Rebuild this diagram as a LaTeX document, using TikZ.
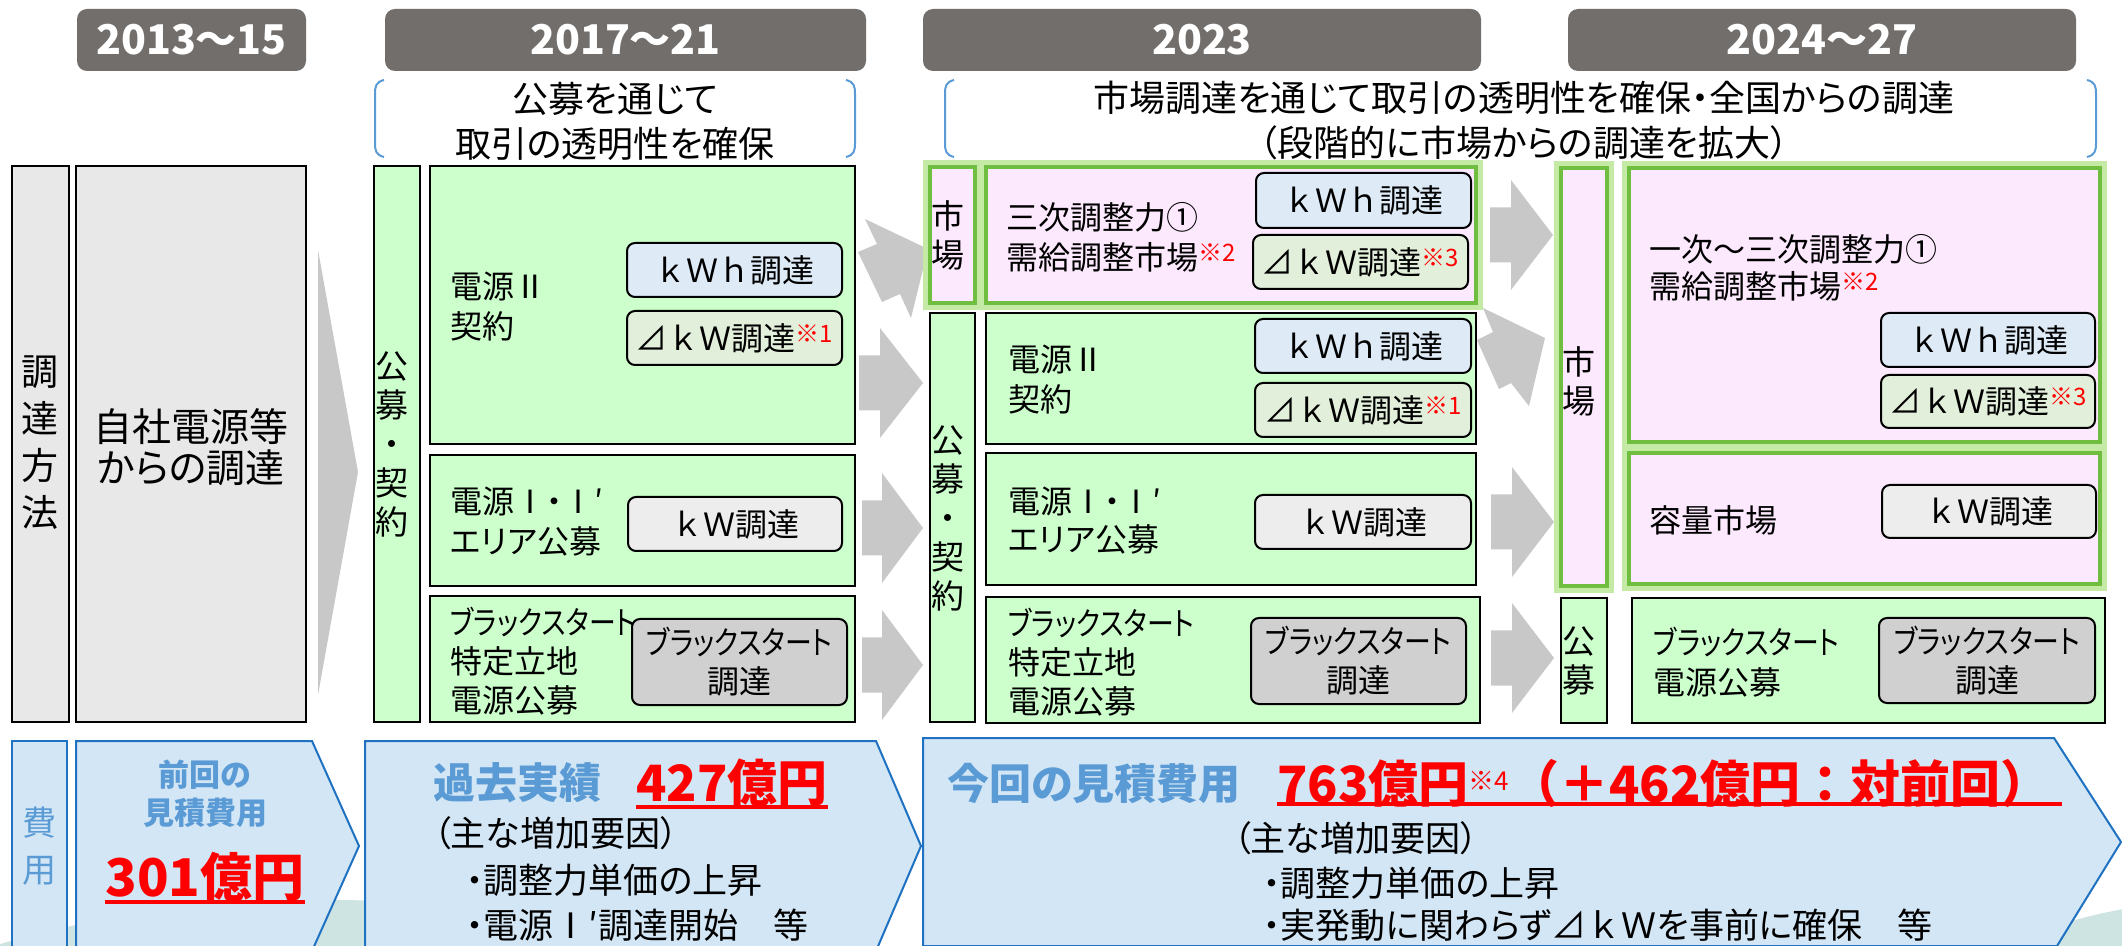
\documentclass[tikz,border=0pt]{standalone}
\usepackage{fontspec}
\usepackage{graphicx}
\setmainfont{Noto Sans CJK JP}[RawFeature=+palt]
\newfontfamily\jpm{Noto Sans CJK JP}
\usetikzlibrary{calc}
\definecolor{hdrgrey}{RGB}{114,110,107}
\definecolor{leftgrey}{RGB}{232,232,232}
\definecolor{gfill}{RGB}{204,255,204}
\definecolor{pfill}{RGB}{253,233,253}
\definecolor{kwhfill}{RGB}{222,235,247}
\definecolor{dkwfill}{RGB}{226,239,218}
\definecolor{kwfill}{RGB}{237,237,237}
\definecolor{bsfill}{RGB}{208,208,208}
\definecolor{arrgrey}{RGB}{200,200,200}
\definecolor{brblue}{RGB}{91,155,213}
\definecolor{costfill}{RGB}{211,230,245}
\definecolor{costline}{RGB}{31,113,193}
\definecolor{costtext}{RGB}{91,155,213}
\definecolor{glowborder}{RGB}{112,190,64}
\definecolor{halocol}{RGB}{196,234,166}
\definecolor{hill}{RGB}{205,228,226}
\newcommand\fs[2]{\fontsize{#1}{#2}\selectfont}
\newcommand\sn[1]{\raisebox{4pt}{\textcolor{red}{\fs{12}{13}※#1}}}
\newcommand\bsk{\scalebox{0.84}[1]{ブラックスタート}}
\newcommand\bx[7]{\node[#2, minimum width={(#5-#3)*0.5pt}, minimum height={(#6-#4)*0.5pt}] (#1) at (#3,#4) {#7};}
\newcommand\harrow[4]{\fill[blk] (#1,#4-27.5) -- (#2,#4-27.5) -- (#2,#4-55) -- (#3,#4) -- (#2,#4+55) -- (#2,#4+27.5) -- (#1,#4+27.5) -- cycle;}
\tikzset{
  base/.style={inner sep=0pt, outer sep=0pt, anchor=north west},
  hdr/.style={base, fill=hdrgrey, rounded corners=5pt, text=white, font=\bfseries\fs{20.5}{24}},
  lbox/.style={base, draw=black, line width=1pt, fill=leftgrey},
  gbox/.style={base, draw=black, line width=1pt, fill=gfill},
  pbox/.style={base, draw=glowborder, line width=2.2pt, fill=pfill},
  halo/.style={draw=halocol, line width=7pt},
  ibox/.style={base, draw=black, line width=1pt, rounded corners=4pt, font=\jpm\fs{16}{20}, align=center},
  kwh/.style={ibox, fill=kwhfill},
  dkw/.style={ibox, fill=dkwfill},
  kwb/.style={ibox, fill=kwfill},
  bsb/.style={ibox, fill=bsfill, font=\fs{16}{19.5}},
  txt/.style={inner sep=0pt, anchor=west, align=left, font=\fs{16}{20}},
  vtxt/.style={inner sep=0pt, anchor=west, align=center, font=\jpm\fs{16.5}{19.5}},
  blk/.style={fill=arrgrey},
  brk/.style={draw=brblue, line width=1pt},
  costbox/.style={fill=costfill, draw=costline, line width=1pt},
  ul/.style={draw=red, line width=1.6pt},
  blue/.style={txt, text=costtext, font=\bfseries\fs{21}{24}},
  rednum/.style={txt, text=red, font=\bfseries\jpm\fs{25}{30}},
  cause/.style={txt, font=\fs{17.5}{22}}
}
\begin{document}
\begin{tikzpicture}[x=0.5pt,y=-0.5pt]
\useasboundingbox (0,0) rectangle (2122,946);
\fill[white] (0,0) rectangle (2122,946);
% background hills
\fill[hill] (330,1130) ellipse [x radius=280pt, y radius=115pt];
\fill[hill] (2230,1040) ellipse [x radius=150pt, y radius=70pt];

% headers
\bx{h1}{hdr}{77}{9}{306}{71}{2013～15}
\bx{h2}{hdr}{385}{9}{866}{71}{2017～21}
\bx{h3}{hdr}{923}{9}{1481}{71}{2023}
\bx{h4}{hdr}{1568}{9}{2076}{71}{2024～27}

% brackets
\draw[brk] (384,80) .. controls (376,82) and (375,86) .. (375,94) -- (375,143) .. controls (375,151) and (376,155) .. (384,157);
\draw[brk] (846,80) .. controls (854,82) and (855,86) .. (855,94) -- (855,143) .. controls (855,151) and (854,155) .. (846,157);
\draw[brk] (954,80) .. controls (946,82) and (945,86) .. (945,94) -- (945,143) .. controls (945,151) and (946,155) .. (954,157);
\draw[brk] (2087,80) .. controls (2095,82) and (2096,86) .. (2096,94) -- (2096,143) .. controls (2096,151) and (2095,155) .. (2087,157);
\node[font=\fs{18}{22.5}, align=center, inner sep=0pt] (t1) at (615,121) {公募を通じて\\取引の透明性を確保};
\node[font=\fs{18}{22.5}, align=center, inner sep=0pt] (t2) at (1524,121) {市場調達を通じて取引の透明性を確保・全国からの調達\\（段階的に市場からの調達を拡大）};

% left column
\bx{l1}{lbox}{12}{166}{69}{722}{}
\node[inner sep=0pt, align=center, font=\jpm\fs{18.5}{23.5}] (l1t) at (40,443) {調\\達\\方\\法};
\bx{l2}{lbox}{76}{166}{306}{722}{}
\node[inner sep=0pt, align=center, font=\fs{19.5}{20.5}] (l2t) at (191,447) {自社電源等\\からの調達};
\fill[blk] (318,250) -- (358,472) -- (318,695) -- cycle;

% 2017-21
\bx{v1}{gbox}{374}{166}{420}{722}{}
\node[vtxt] (v1t) at (375,444) {公\\募\\・\\契\\約};
\bx{g1}{gbox}{430}{166}{855}{444}{}
\node[txt] (g1t) at (450,307) {電源Ⅱ\\契約};
\bx{k1}{kwh}{627}{243}{842}{297}{ｋＷｈ調達}
\bx{d1}{dkw}{627}{311}{842}{365}{⊿ｋＷ調達\sn1}
\bx{g2}{gbox}{430}{455}{855}{586}{}
\node[txt] (g2t) at (450,522) {電源Ⅰ・Ⅰ′\\エリア公募};
\bx{w1}{kwb}{628}{497}{842}{551}{ｋＷ調達}
\bx{g3}{gbox}{430}{596}{855}{722}{}
\bx{b1}{bsb}{632}{619}{847}{705}{\bsk\\調達}
\node[txt, font=\fs{16}{19.5}] (g3t) at (450,661) {\bsk\\特定立地\\電源公募};

% arrows 2017 -> 2023
\fill[blk] (865,219) -- (928,249) -- (911,318) -- (900,294) -- (882,302) -- (858,252) -- (877,244) -- cycle;
\harrow{859}{880}{923}{383}
\harrow{862}{882}{923}{528}
\harrow{862}{882}{923}{665}

% 2023
\draw[halo] (930,167) rectangle (975,303);
\draw[halo] (986,167) rectangle (1476,303);
\bx{m1}{pbox}{930}{167}{975}{303}{}
\node[vtxt] (m1t) at (931,235) {市\\場};
\bx{s1}{pbox}{986}{167}{1476}{303}{}
\node[txt] (s1t) at (1006,237) {三次調整力①\\需給調整市場\sn2};
\bx{k2}{kwh}{1256}{173}{1471}{228}{ｋＷｈ調達}
\bx{d2}{dkw}{1253}{235}{1468}{289}{⊿ｋＷ調達\sn3}
\bx{v2}{gbox}{930}{313}{975}{722}{}
\node[vtxt] (v2t) at (931,518) {公\\募\\・\\契\\約};
\bx{g4}{gbox}{986}{313}{1476}{444}{}
\node[txt] (g4t) at (1008,380) {電源Ⅱ\\契約};
\bx{k3}{kwh}{1255}{319}{1471}{373}{ｋＷｈ調達}
\bx{d3}{dkw}{1255}{383}{1471}{437}{⊿ｋＷ調達\sn1}
\bx{g5}{gbox}{986}{453}{1476}{585}{}
\node[txt, font=\fs{16}{19}] (g5t) at (1008,521) {電源Ⅰ・Ⅰ′\\エリア公募};
\bx{w2}{kwb}{1255}{495}{1471}{549}{ｋＷ調達}
\bx{g6}{gbox}{986}{597}{1480}{723}{}
\node[txt, font=\fs{16}{19.5}] (g6t) at (1008,662) {\bsk\\特定立地\\電源公募};
\bx{b2}{bsb}{1251}{618}{1466}{704}{\bsk\\調達}

% arrows 2023 -> 2024
\harrow{1490}{1511}{1553}{235}
\fill[blk] (1483,308) -- (1545,338) -- (1529,406) -- (1511,383) -- (1499,389) -- (1477,340) -- (1493,332) -- cycle;
\harrow{1491}{1512}{1554}{522}
\harrow{1491}{1512}{1554}{658}

% 2024-27
\draw[halo] (1561,168) rectangle (1607,586);
\draw[halo] (1629,168) rectangle (2100,442);
\draw[halo] (1629,453) rectangle (2100,584);
\bx{m2}{pbox}{1561}{168}{1607}{586}{}
\node[vtxt] (m2t) at (1562,381) {市\\場};
\bx{s2}{pbox}{1629}{168}{2100}{442}{}
\node[txt, font=\fs{16}{18.5}] (s2t) at (1649,268) {一次～三次調整力①\\需給調整市場\sn2};
\bx{k4}{kwh}{1881}{313}{2095}{367}{ｋＷｈ調達}
\bx{d4}{dkw}{1881}{375}{2095}{428}{⊿ｋＷ調達\sn3}
\bx{s3}{pbox}{1629}{453}{2100}{584}{}
\node[txt] (s3t) at (1649,520) {容量市場};
\bx{w3}{kwb}{1882}{485}{2096}{538}{ｋＷ調達}
\bx{v3}{gbox}{1561}{598}{1607}{723}{}
\node[vtxt] (v3t) at (1562,661) {公\\募};
\bx{g7}{gbox}{1632}{598}{2105}{723}{}
\node[txt] (g7t) at (1653,662) {\bsk\\電源公募};
\bx{b3}{bsb}{1879}{618}{2095}{703}{\bsk\\調達}

% cost row
\bx{c0}{costbox,base}{12}{741}{67}{960}{}
\node[inner sep=0pt, align=center, text=costtext, font=\jpm\fs{17}{23.5}] (c0t) at (40,846) {費\\用};
\draw[costbox] (76,741) -- (312,741) -- (359,846) -- (312,951) -- (76,951) -- cycle;
\draw[costbox] (365,741) -- (876,741) -- (921,846) -- (876,951) -- (365,951) -- cycle;
\draw[costbox] (923,738) -- (2054,738) -- (2121,842) -- (2057,946) -- (923,946) -- cycle;

\node[inner sep=0pt, align=center, text=costtext, font=\bfseries\fs{15.5}{19}] (c1a) at (205,794) {前回の\\見積費用};
\node[inner sep=0pt, text=red, font=\bfseries\jpm\fs{26}{30}] (n1) at (205,877) {301億円};
\draw[ul] (n1.west |- 0,902) -- (n1.east |- 0,902);

\node[blue] (p1) at (433,783) {過去実績};
\node[rednum] (n2) at (636,783) {427億円};
\draw[ul] (n2.west |- 0,807) -- (n2.east |- 0,807);
\node[cause] (q1) at (433,833) {（主な増加要因）};
\node[cause] (q2) at (466,880) {・調整力単価の上昇};
\node[cause] (q3) at (466,925) {・電源Ⅰ′調達開始　等};

\node[blue] (p2) at (947,783) {今回の見積費用};
\node[rednum] (n3) at (1277,783) {763億円\raisebox{6pt}{\mdseries\fs{13}{14}※4}（＋462億円：対前回）};
\draw[ul] (1277,804) -- (2062,804);
\node[cause] (q4) at (1233,838) {（主な増加要因）};
\node[cause] (q5) at (1263,883) {・調整力単価の上昇};
\node[cause] (q6) at (1263,925) {・実発動に関わらず{\jpm ⊿ｋＷ}を事前に確保　等};
\end{tikzpicture}
\end{document}
